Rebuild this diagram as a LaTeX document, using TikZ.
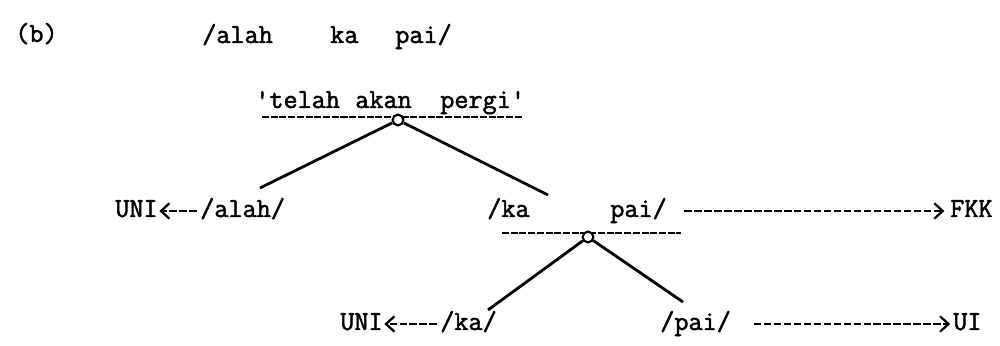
\documentclass[tikz,border=0pt]{standalone}
\usepackage{fontspec}
\newfontfamily\typer{Latin Modern Mono}[FakeBold=1.8]
\usetikzlibrary{arrows.meta}
\begin{document}
\begin{tikzpicture}[x=0.025cm,y=-0.025cm,
  word/.style={anchor=base west,inner sep=0pt,text height=0.4cm,text depth=0.1cm,
    font=\typer\fontsize{19.5}{22}\selectfont},
  branch/.style={line width=2pt},
  uline/.style={line width=1.8pt,dash pattern=on 5pt off 1.2pt},
  knot/.style={circle,draw,fill=white,line width=1.5pt,minimum size=0.27cm,inner sep=0pt},
  link/.style={line width=1.9pt,dash pattern=on 5.5pt off 1.6pt,
    -{Straight Barb[length=6pt,width=11pt,line width=1.6pt]}}]
\useasboundingbox (0,0) rectangle (1000,346);

% label
\node[word] (lab) at (15,42) {(b)};

% form and gloss
\node[word] (f1) at (202,43) {/alah};
\node[word] (f2) at (330,43) {ka};
\node[word] (f3) at (395,43) {pai/};
\node[word] (g1) at (255,108) {'telah};
\node[word] (g2) at (355,108) {akan};
\node[word] (g3) at (440,108) {pergi'};
\coordinate (ua) at (262,117);
\coordinate (ub) at (523,117);
\draw[uline] (ua) -- (ub);
\node[knot] (k1) at (398,120) {};

% first split
\coordinate (e1) at (260,188);
\coordinate (e2) at (548,195);
\draw[branch] (k1) -- (e1);
\draw[branch] (k1) -- (e2);

\node[word] (uni1) at (115,217) {UNI};
\node[word] (alah) at (200,217) {/alah/};
\node[word] (ka1)  at (487,217) {/ka};
\node[word] (pai1) at (610,217) {pai/};
\node[word] (fkk)  at (950,217) {FKK};
\draw[link,shorten <=2pt,shorten >=1pt] (alah.west) -- (uni1.east);
\draw[link,shorten <=12pt,shorten >=4pt] (pai1.east) -- (fkk.west);

\coordinate (va) at (502,233);
\coordinate (vb) at (681,233);
\draw[uline] (va) -- (vb);
\node[knot] (k2) at (588,237) {};

% second split
\coordinate (e3) at (488,310);
\coordinate (e4) at (683,302);
\draw[branch] (k2) -- (e3);
\draw[branch] (k2) -- (e4);

\node[word] (uni2) at (340,330) {UNI};
\node[word] (ka2)  at (440,330) {/ka/};
\node[word] (pai2) at (660,330) {/pai/};
\node[word] (ui)   at (953,330) {UI};
\draw[link,shorten <=2pt,shorten >=1pt] (ka2.west) -- (uni2.east);
\draw[link,shorten <=16pt,shorten >=2pt] (pai2.east) -- (ui.west);
\end{tikzpicture}
\end{document}
